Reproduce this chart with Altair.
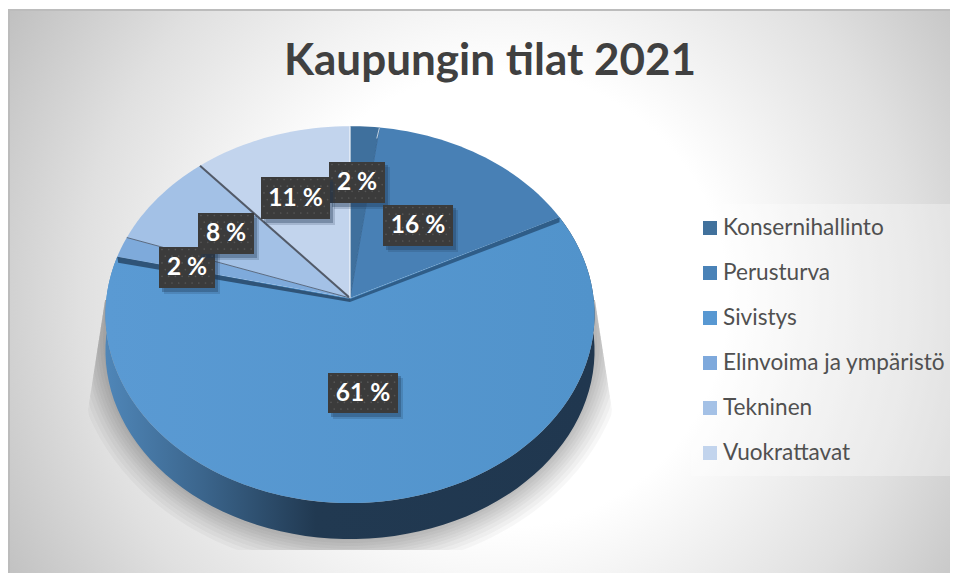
import math
import altair as alt
import pandas as pd

categories = ["Konsernihallinto", "Perusturva", "Sivistys", "Elinvoima ja ympäristö", "Tekninen", "Vuokrattavat"]
values = [2.1, 15.5, 61.0, 1.8, 8.2, 11.4]
labels = ["2 %", "16 %", "61 %", "2 %", "8 %", "11 %"]
colors = ["#3f709d", "#4880b5", "#5596cf", "#7eaadb", "#a3c1e6", "#c2d4ed"]
legend_colors = ["#41719c", "#4a82b7", "#5898d2", "#7ea9dc", "#a4c1e6", "#c2d4ed"]
title = "Kaupungin tilat 2021"

W, H = 942, 565
CX, CY = 350, 298
A, C, K = 243.6, 187.0, 0.088
DEPTH = 36

sx = alt.Scale(domain=[8, 950], range=[0, W])
sy = alt.Scale(domain=[8, 573], range=[0, H])
X = lambda f="x": alt.X(f"{f}:Q", scale=sx, axis=None)
Y = lambda f="y": alt.Y(f"{f}:Q", scale=sy, axis=None)


def pt(pct, r=1.0, dy=0.0):
    th = math.radians(pct * 3.6)
    px, py = r * math.sin(th), r * math.cos(th)
    d = 1 + K * py
    return CX + A * px / d, CY - C * py / d + dy


def poly(points, fill, opacity=1.0):
    df = pd.DataFrame({"x": [p[0] for p in points], "y": [p[1] for p in points], "o": range(len(points))})
    return alt.Chart(df).mark_line(fill=fill, stroke=None, strokeWidth=0, fillOpacity=opacity, interpolate="linear").encode(
        x=X(), y=Y(), order="o:Q"
    )


def seg(a, b, color, width):
    df = pd.DataFrame({"x": [a[0], b[0]], "y": [a[1], b[1]], "o": [0, 1]})
    return alt.Chart(df).mark_line(color=color, strokeWidth=width).encode(x=X(), y=Y(), order="o:Q")


def rect(x0, x1, y0, y1, **kw):
    df = pd.DataFrame({"x": [x0], "x2": [x1], "y": [y0], "y2": [y1]})
    return alt.Chart(df).mark_rect(**kw).encode(x=X(), x2="x2:Q", y=Y(), y2="y2:Q")


def text(x, y, s, **kw):
    df = pd.DataFrame({"x": [x], "y": [y], "t": [s]})
    return alt.Chart(df).mark_text(**kw).encode(x=X(), y=Y(), text="t:N")


layers = []

# background: square rect so the radial gradient stays circular; the page cuts off the rest
bg = alt.RadialGradient(
    gradient="radial", x1=0.515, y1=0.304, r1=0, x2=0.515, y2=0.304, r2=0.613,
    stops=[alt.GradientStop(offset=0.39, color="#ffffff"), alt.GradientStop(offset=0.72, color="#e0e0e0"),
           alt.GradientStop(offset=1, color="#bdbdbd")],
)
layers.append(rect(9, 962, 10, 963, fill=bg, stroke="#bcbcbc", strokeWidth=2))


def edge(y):
    return 245 + max(0, y - 300) * 17 / 110


# soft shadow under the pie
for d in [32, 28, 24, 20, 17, 14, 11, 8, 5, 2]:
    pts = [(CX + 245, 300)]
    for i in range(0, 121):
        phi = math.pi * i / 120
        y = min(338 + (200 + d) * math.sin(phi), 550)
        off = (245 + d) * math.cos(phi)
        off = max(-edge(y), min(edge(y), off))
        pts.append((CX + off, y))
    pts.append((CX - 245, 300))
    layers.append(poly(pts, "#000000", 0.032))

cum = [0]
for v in values:
    cum.append(cum[-1] + v)

# side wall of the large slice
wall_grad = alt.LinearGradient(
    gradient="linear", x1=0, y1=0, x2=1, y2=0,
    stops=[alt.GradientStop(offset=0, color="#4f86b8"), alt.GradientStop(offset=0.2, color="#3b658c"),
           alt.GradientStop(offset=0.43, color="#213951"), alt.GradientStop(offset=1, color="#20374f")],
)
n = 80
s, e = cum[2], cum[3]
arc = [s + (e - s) * i / n for i in range(n + 1)]
wall = [pt(p) for p in arc] + [pt(p, dy=DEPTH) for p in reversed(arc)]
layers.append(poly(wall, wall_grad))

# top faces
apex = (CX, CY)
top_grad = alt.LinearGradient(
    gradient="linear", x1=0, y1=0, x2=1, y2=0,
    stops=[alt.GradientStop(offset=0, color="#5a9ad3"), alt.GradientStop(offset=1, color="#5193cb")],
)
for i in [2, 5, 4, 3, 1, 0]:
    s, e = cum[i], cum[i + 1]
    m = max(6, int(values[i] * 2))
    face = [apex] + [pt(s + (e - s) * j / m) for j in range(m + 1)]
    layers.append(poly(face, top_grad if i == 2 else colors[i]))

# dark side strips under the edges of the slices next to the large one
for c, col, first in [(cum[2], "#2f5d88", True), (cum[3], "#2f5478", False)]:
    p = pt(c)
    a2 = (apex[0], apex[1] + 1)
    if first:
        strip = [a2, p, (p[0], p[1] + 5), (apex[0], apex[1] + 4)]
    else:
        strip = [a2, p, (p[0] + 1, p[1] + 6), (apex[0], apex[1] + 4)]
    layers.append(poly(strip, col))

# slice edge lines
layers.append(seg(apex, pt(cum[5]), "#525a68", 2))
layers.append(seg(apex, pt(cum[4]), "#5a6a80", 1))
layers.append(seg(apex, pt(cum[1]), "#3a6a98", 1))
layers.append(seg(apex, pt(0), "#f2f5fa", 1.2))
layers.append(seg(pt(cum[1]), pt(cum[1] - 0.06, 0.93), "#dfe8f2", 0.8))

# data labels
boxes = [(329, 385, 162, 203), (383, 453, 205, 246), (328, 398, 373, 413),
         (159, 215, 247, 288), (198, 254, 213, 254), (261, 330, 177, 219)]
for (x0, x1, y0, y1), lab in zip(boxes, labels):
    layers.append(rect(x0 + 5, x1 + 5, y0 + 5, y1 + 6, fill="#1d3450", opacity=0.18))
    layers.append(rect(x0 + 3, x1 + 3, y0 + 3, y1 + 4, fill="#1d3450", opacity=0.32))
    layers.append(rect(x0, x1, y0, y1, fill="#3b3b3b"))
    dots = []
    yy = y0 + 2.5
    row = 0
    while yy < y1:
        xx = x0 + 3 + (3.3 if row % 2 else 0)
        while xx < x1 - 1:
            dots.append({"x": xx, "y": yy})
            xx += 6.7
        yy += 6.7
        row += 1
    layers.append(alt.Chart(pd.DataFrame(dots)).mark_point(filled=True, size=3, color="#5c5c5c", opacity=0.8).encode(x=X(), y=Y()))
    layers.append(text((x0 + x1) / 2, (y0 + y1) / 2 + 0.5, lab, font="Lato", fontWeight="bold", fontSize=24.5,
                       color="#ffffff", align="center", baseline="middle"))

# legend
layers.append(rect(691, 955, 204, 476, fill="#ffffff", opacity=0.3))
for i, (c, col) in enumerate(zip(categories, legend_colors)):
    yc = 228 + 45 * i
    layers.append(rect(703, 717, yc - 7, yc + 7, fill=col))
    layers.append(text(723, yc, c, font="Lato", fontSize=22.6, color="#505050", align="left", baseline="middle"))

# title
layers.append(text(490, 62, title, font="Lato", fontWeight="bold", fontSize=44, color="#404040",
                   align="center", baseline="middle"))

chart = alt.layer(*layers).properties(width=W, height=H, padding=0, autosize=alt.AutoSizeParams(type="none")).configure_view(stroke=None)
chart.save("out.html", embed_options={"renderer": "svg", "actions": False})
